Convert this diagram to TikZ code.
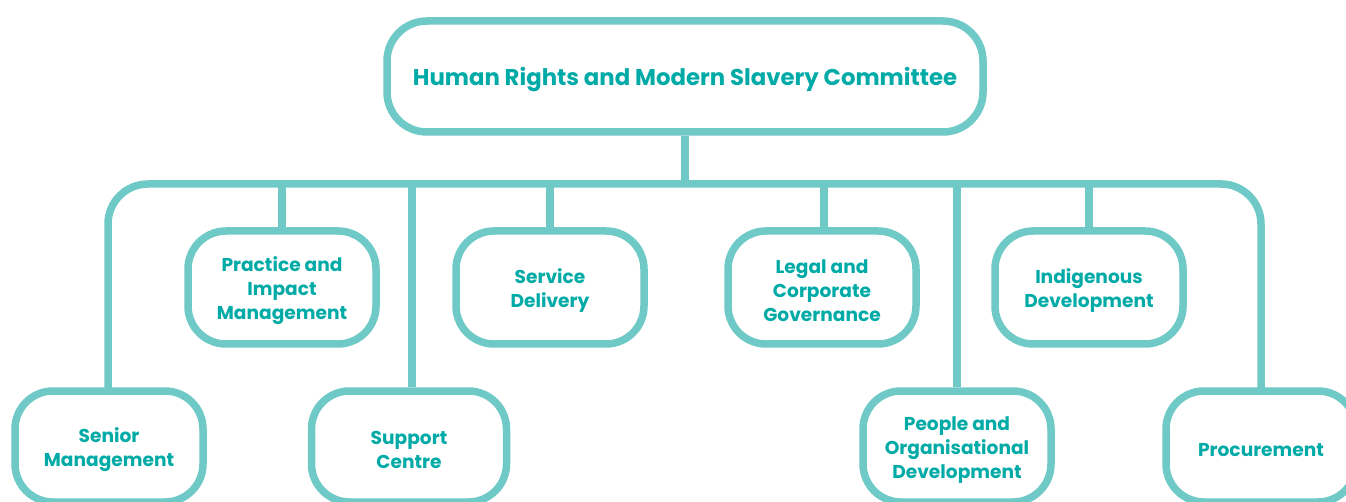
\documentclass[tikz,border=0pt]{standalone}
\usepackage{fontspec}
\setmainfont{Poppins}
\definecolor{edge}{HTML}{6FC9C6}
\definecolor{txt}{HTML}{00AAA6}
\begin{document}
\begin{tikzpicture}[x=1pt,y=-1pt,
  box/.style={draw=edge, line width=7.5pt, fill=white, rounded corners=38pt,
    rectangle, inner sep=0pt},
  lbl/.style={align=center, text=txt, inner sep=0pt, yshift=-3.5pt,
    font=\bfseries\fontsize{18.6}{24}\selectfont},
  midbox/.style={box, minimum width=188pt, minimum height=113pt},
  lowbox/.style={box, minimum width=188pt, minimum height=111pt},
  link/.style={draw=edge, line width=7.5pt}]
\useasboundingbox (0,0) rectangle (1346,502);
\clip (0,0) rectangle (1346,502);
\coordinate (bus) at (685,184);
% connectors
\draw[link, rounded corners=40pt] (108,448) |- (bus) -| (1261,448);
% nodes
\node[box, minimum width=596pt, minimum height=111pt, rounded corners=40pt,
  label={[lbl, font=\bfseries\fontsize{22.8}{26}\selectfont]center:Human Rights and Modern Slavery Committee}]
  (top) at (685,76.5) {};
\draw[link] (top.south) -- (bus);
\node[midbox, label={[lbl]center:Practice and\\Impact\\Management}] (pim) at (282,287.5) {};
\node[midbox, label={[lbl]center:Service\\Delivery}] (sd) at (550,287.5) {};
\node[midbox, label={[lbl]center:Legal and\\Corporate\\Governance}] (lcg) at (822,287.5) {};
\node[midbox, label={[lbl]center:Indigenous\\Development}] (ind) at (1089,287.5) {};
\node[lowbox, label={[lbl]center:Senior\\Management}] (sen) at (109,446.5) {};
\node[lowbox, minimum width=195pt, label={[lbl]center:Support\\Centre}] (sup) at (409,446.5) {};
\node[lowbox, label={[lbl]center:People and\\Organisational\\Development}] (pod) at (957,446.5) {};
\node[lowbox, minimum width=190pt, label={[lbl]center:Procurement}] (proc) at (1261,446.5) {};
\draw[link] (pim.north) -- (pim.north |- bus);
\draw[link] (sd.north) -- (sd.north |- bus);
\draw[link] (824,0 |- lcg.north) -- (824,184);
\draw[link] (ind.north) -- (ind.north |- bus);
\draw[link] (412,0 |- sup.north) -- (412,184);
\draw[link] (pod.north) -- (pod.north |- bus);
\end{tikzpicture}
\end{document}
